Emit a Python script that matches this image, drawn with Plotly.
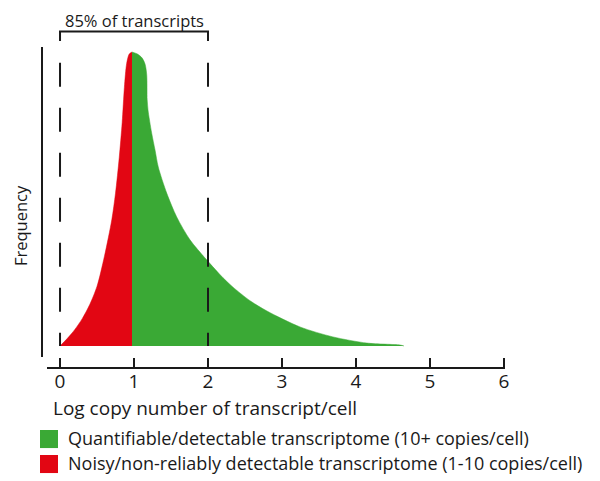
import plotly.graph_objects as go

# curva de frecuencia (log copias vs frecuencia)
x_red = [0.0, 0.1, 0.2, 0.3, 0.4, 0.5, 0.6, 0.7, 0.75, 0.8, 0.84, 0.87, 0.9, 0.935, 0.973]
y_red = [0.0, 2.6, 5.6, 9.3, 14.0, 20.3, 30.5, 43.0, 52.0, 64.0, 76.0, 88.0, 96.0, 99.3, 100.0]

x_green = [0.973, 1.047, 1.108, 1.149, 1.172, 1.178, 1.189, 1.239, 1.284, 1.328, 1.442, 1.577,
           1.757, 1.982, 2.203, 2.338, 2.568, 2.797, 3.243, 3.689, 4.149, 4.595, 4.649]
y_green = [100.0, 99.3, 98.0, 95.9, 92.2, 83.7, 80.3, 72.4, 66.7, 60.9, 52.0, 43.9,
           36.1, 29.3, 23.2, 20.0, 15.4, 11.9, 6.5, 3.1, 1.0, 0.34, 0.0]

tick_vals = [0, 1, 2, 3, 4, 5, 6]
bracket_x = [0, 2]
bracket_text = "85% of transcripts"
x_title = "Log copy number of transcript/cell"
y_title = "Frequency"
leg_names = ["Quantifiable/detectable transcriptome (10+ copies/cell)",
             "Noisy/non-reliably detectable transcriptome (1-10 copies/cell)"]

verde = "rgb(58,169,53)"
rojo = "rgb(226,6,19)"
negro = "#1a1a1a"
fuente = "Open Sans"

fig = go.Figure()
fig.add_trace(go.Scatter(x=x_red, y=y_red, mode="lines", fill="tozeroy",
                         line=dict(color=rojo, width=0.5, shape="spline", smoothing=0.8),
                         fillcolor=rojo, name=leg_names[1], showlegend=False, hoverinfo="skip"))
fig.add_trace(go.Scatter(x=x_green, y=y_green, mode="lines", fill="tozeroy",
                         line=dict(color=verde, width=0.5, shape="spline", smoothing=0.8),
                         fillcolor=verde, name=leg_names[0], showlegend=False, hoverinfo="skip"))

shapes = []
# lineas punteadas
for xv in bracket_x:
    shapes.append(dict(type="line", xref="x", yref="y", x0=xv, x1=xv, y0=96.3, y1=0,
                       line=dict(color=negro, width=2, dash="24px,21px")))
# corchete superior
shapes.append(dict(type="path", xref="x", yref="y",
                   path=f"M {bracket_x[0]},103.7 L {bracket_x[0]},107.0 L {bracket_x[1]},107.0 L {bracket_x[1]},103.7",
                   line=dict(color=negro, width=2)))
# eje y
shapes.append(dict(type="line", xref="paper", yref="paper", x0=-0.0109, x1=-0.0109, y0=0.0288, y1=0.922,
                   line=dict(color=negro, width=2)))
# cuadros de leyenda
for i, c in enumerate([verde, rojo]):
    y0 = -0.1816 - i * 0.072
    shapes.append(dict(type="rect", xref="paper", yref="paper", x0=-0.0153, x1=0.024, y0=y0, y1=y0 - 0.052,
                       fillcolor=c, line=dict(width=0)))

annotations = [
    dict(text=bracket_text, xref="x", yref="paper", x=1.0, y=1.0346, showarrow=False,
         xanchor="center", yanchor="top", borderpad=0,
         font=dict(family=fuente, size=16.5, color=negro)),
    dict(text=x_title, xref="paper", yref="paper", x=0.345, y=-0.118, showarrow=False,
         xanchor="center", yanchor="middle",
         font=dict(family=fuente, size=19, color=negro)),
    dict(text=y_title, xref="paper", yref="paper", x=-0.059, y=0.409, showarrow=False, textangle=-90,
         xanchor="center", yanchor="middle",
         font=dict(family=fuente, size=16.5, color=negro)),
]
for i, n in enumerate(leg_names):
    annotations.append(dict(text=n, xref="paper", yref="paper", x=0.0415, y=-0.2046 - i * 0.072,
                            xanchor="left", yanchor="middle", showarrow=False,
                            font=dict(family=fuente, size=18, color=negro)))

fig.update_layout(
    width=592, height=473,
    margin=dict(l=39, r=95, t=12, b=114),
    paper_bgcolor="white", plot_bgcolor="white",
    shapes=shapes, annotations=annotations,
    xaxis=dict(range=[-0.176, 6.014], tickvals=tick_vals, showgrid=False, zeroline=False,
               showline=True, linecolor=negro, linewidth=2, ticks="inside", ticklen=9,
               tickwidth=2, tickcolor=negro, ticklabelstandoff=-4,
               tickfont=dict(family=fuente, size=19, color=negro)),
    yaxis=dict(range=[-7.14, 110.88], showgrid=False, zeroline=False, showticklabels=False,
               showline=False),
)

fig.write_html("out.html")
